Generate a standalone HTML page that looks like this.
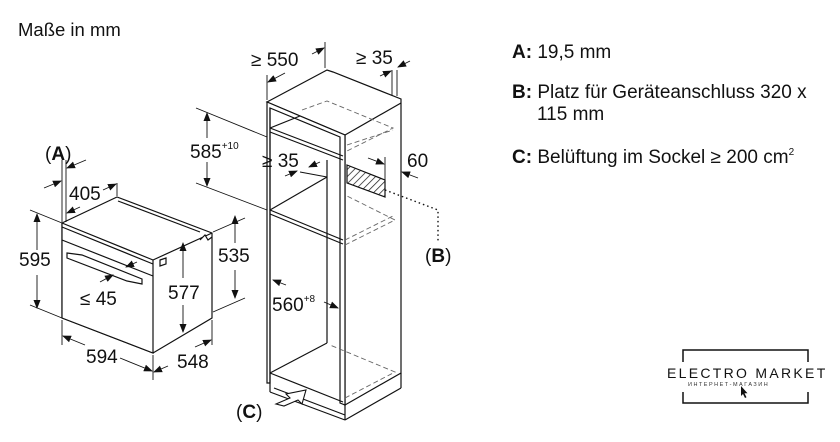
<!DOCTYPE html>
<html><head><meta charset="utf-8"><style>
html,body{margin:0;padding:0;background:#fff;}
svg{display:block;font-family:"Liberation Sans",sans-serif;}
</style></head><body>
<svg width="840" height="442" viewBox="0 0 840 442" xmlns="http://www.w3.org/2000/svg">
<defs>
<marker id="ar" markerWidth="9" markerHeight="9" refX="8" refY="4.5" orient="auto" markerUnits="userSpaceOnUse"><path d="M0,1 L9,4.5 L0,8 Z" fill="#111"/></marker>
<pattern id="hatch" width="5" height="5" patternUnits="userSpaceOnUse" patternTransform="rotate(45)"><line x1="0" y1="0" x2="0" y2="5" stroke="#222" stroke-width="1.5"/></pattern>
</defs>
<g fill="#111">
<text x="18" y="36" font-size="18.5">Maße in mm</text>
<text x="512" y="58" font-size="19"><tspan font-weight="bold">A:</tspan> 19,5 mm</text>
<text x="512" y="98" font-size="19"><tspan font-weight="bold">B:</tspan> Platz für Geräteanschluss 320 x</text>
<text x="537" y="120" font-size="19">115 mm</text>
<text x="512" y="163" font-size="19"><tspan font-weight="bold">C:</tspan> Belüftung im Sockel ≥ 200 cm<tspan font-size="10" dy="-8">2</tspan></text>
</g>

<!-- OVEN -->
<g stroke="#111" stroke-width="1.2" fill="#fff">
<polygon points="62,223 117,197 212,233 212,318 153,353 62,318"/>
<polygon points="62,223 153,260 153,353 62,318"/>
<line x1="153" y1="260" x2="212" y2="233"/>
<line x1="62" y1="240" x2="153" y2="276"/>
<line x1="62" y1="227" x2="153" y2="264"/>
<line x1="118" y1="201" x2="200" y2="232"/>
<polygon points="67,253 82,255 142,279 142,284 127,281 67,258"/>
<path d="M160,260 l6,-2 l0,6 l-6,2 z"/>
<path d="M200,240 l5,-5 l3,5 l4,-3"/>
</g>
<g stroke="#111" stroke-width="0.9" fill="none">
<line x1="62" y1="160" x2="62" y2="222"/>
<line x1="66" y1="160" x2="66" y2="222"/>
<line x1="30" y1="210" x2="62" y2="223"/>
<line x1="30" y1="305" x2="62" y2="318"/>
<line x1="37" y1="250" x2="37" y2="214" marker-end="url(#ar)"/>
<line x1="37" y1="275" x2="37" y2="308" marker-end="url(#ar)"/>
<line x1="44" y1="188" x2="61" y2="181" marker-end="url(#ar)"/>
<line x1="86" y1="160" x2="67" y2="168" marker-end="url(#ar)"/>
<line x1="117" y1="183" x2="117" y2="196"/>
<line x1="103" y1="190" x2="116" y2="184" marker-end="url(#ar)"/>
<line x1="80" y1="207" x2="67" y2="213" marker-end="url(#ar)"/>
<line x1="62" y1="320" x2="62" y2="345"/>
<line x1="153" y1="355" x2="153" y2="380"/>
<line x1="212" y1="320" x2="212" y2="345"/>
<line x1="85" y1="345" x2="63" y2="336" marker-end="url(#ar)"/>
<line x1="120" y1="358" x2="152" y2="371" marker-end="url(#ar)"/>
<line x1="168" y1="366" x2="154" y2="372" marker-end="url(#ar)"/>
<line x1="195" y1="347" x2="211" y2="340" marker-end="url(#ar)"/>
<line x1="183" y1="278" x2="183" y2="243" marker-end="url(#ar)"/>
<line x1="183" y1="305" x2="183" y2="332" marker-end="url(#ar)"/>
<line x1="213" y1="232" x2="245" y2="218"/>
<line x1="213" y1="312" x2="245" y2="298"/>
<line x1="235" y1="243" x2="235" y2="216" marker-end="url(#ar)"/>
<line x1="235" y1="270" x2="235" y2="298" marker-end="url(#ar)"/>
<line x1="100" y1="282" x2="113" y2="275" marker-end="url(#ar)"/>
<line x1="137" y1="262" x2="126" y2="267" marker-end="url(#ar)"/>
<line x1="196" y1="108" x2="267" y2="137"/>
<line x1="196" y1="183" x2="267" y2="210"/>
<line x1="207" y1="138" x2="207" y2="113" marker-end="url(#ar)"/>
<line x1="207" y1="162" x2="207" y2="186" marker-end="url(#ar)"/>
</g>
<g fill="#111" font-size="19">
<text x="45" y="160">(<tspan font-weight="bold">A</tspan>)</text>
<text x="69" y="200">405</text>
<text x="19" y="266">595</text>
<text x="80" y="305">≤ 45</text>
<text x="168" y="299">577</text>
<text x="218" y="262">535</text>
<text x="86" y="363">594</text>
<text x="177" y="368">548</text>
<text x="190" y="158">585<tspan font-size="10" dy="-9">+10</tspan></text>
</g>

<!-- CABINET -->
<g stroke="#111" stroke-width="1.2" fill="#fff">
<polygon points="267,102 327,70 333,72 401,99 401,373 345,405 345,135 267,102"/>
<polygon points="270,383 267,383 267,102 345,135 345,405 340,403 340,137 270,108"/>
<line x1="270" y1="108" x2="270" y2="383"/>
<line x1="345" y1="135" x2="401" y2="103"/>
<line x1="270" y1="128" x2="343" y2="156"/>
<line x1="270" y1="132" x2="343" y2="160"/>
<line x1="270" y1="128" x2="300" y2="116"/>
<line x1="270" y1="210" x2="343" y2="240"/>
<line x1="270" y1="214" x2="343" y2="244"/>
<line x1="270" y1="210" x2="327" y2="177"/>
<line x1="270" y1="373" x2="343" y2="402"/>
<line x1="270" y1="373" x2="327" y2="343"/>
<line x1="327" y1="160" x2="327" y2="343"/>
<line x1="270" y1="383" x2="270" y2="392"/>
<line x1="270" y1="392" x2="345" y2="420"/>
<line x1="345" y1="405" x2="345" y2="420"/>
<line x1="345" y1="420" x2="401" y2="388"/>
<line x1="401" y1="373" x2="401" y2="388"/>
<line x1="274" y1="388" x2="345" y2="415"/>
<polygon points="347,165 385,180 385,197 347,183" fill="url(#hatch)"/>
</g>
<g stroke="#666" stroke-width="0.9" fill="none" stroke-dasharray="5,3">
<polyline points="302,110 327,101 393,128 345,152"/>
<line x1="347" y1="145" x2="393" y2="130"/>
<polyline points="345,245 395,220 345,195"/>
<line x1="345" y1="240" x2="395" y2="215"/>
<polyline points="345,398 395,372 330,345"/>
</g>
<g stroke="#111" stroke-width="0.9" fill="none">
<line x1="267" y1="75" x2="267" y2="100"/>
<line x1="325" y1="42" x2="325" y2="68"/>
<line x1="285" y1="73" x2="268" y2="82" marker-end="url(#ar)"/>
<line x1="312" y1="54" x2="324" y2="48" marker-end="url(#ar)"/>
<line x1="392" y1="70" x2="392" y2="96"/>
<line x1="397" y1="70" x2="397" y2="96"/>
<line x1="380" y1="76" x2="391" y2="71" marker-end="url(#ar)"/>
<line x1="410" y1="61" x2="398" y2="67" marker-end="url(#ar)"/>
<line x1="285" y1="176" x2="297" y2="171" marker-end="url(#ar)"/>
<line x1="320" y1="162" x2="309" y2="167" marker-end="url(#ar)"/>
<line x1="300" y1="172" x2="327" y2="177"/>
<line x1="385" y1="157" x2="385" y2="180"/>
<line x1="368" y1="158" x2="384" y2="164" marker-end="url(#ar)"/>
<line x1="418" y1="178" x2="402" y2="172" marker-end="url(#ar)"/>
<line x1="286" y1="285" x2="273" y2="280" marker-end="url(#ar)"/>
<line x1="324" y1="302" x2="338" y2="308" marker-end="url(#ar)"/>
<polyline points="385,190 438,210 438,243" stroke-dasharray="1.5,3" stroke-width="1.4"/>
<path d="M276,404 l14,-6 l-4,-4 l20,-4 l-4,14 l-4,-4 l-14,6 z" fill="#fff" stroke-width="1.1"/>
</g>
<g fill="#111" font-size="19">
<text x="251" y="66">≥ 550</text>
<text x="356" y="64">≥ 35</text>
<text x="262" y="167">≥ 35</text>
<text x="407" y="167">60</text>
<text x="425" y="262">(<tspan font-weight="bold">B</tspan>)</text>
<text x="272" y="311">560<tspan font-size="10" dy="-9">+8</tspan></text>
<text x="236" y="418">(<tspan font-weight="bold">C</tspan>)</text>
</g>

<!-- LOGO -->
<g stroke="#111" stroke-width="1.5" fill="none">
<polyline points="683,362 683,350 808,350 808,362"/>
<polyline points="683,392 683,403 808,403 808,392"/>
</g>
<text x="667" y="378" font-size="14" letter-spacing="2.3" fill="#111">ELECTRO MARKET</text>
<text x="688" y="386" font-size="5.5" letter-spacing="1.5" fill="#333">ИНТЕРНЕТ-МАГАЗИН</text>
<path d="M741,386 l0,10 l2,-2 l2,4 l1.5,-0.8 l-2,-4 l3,0 z" fill="#111"/>
</svg>
</body></html>
